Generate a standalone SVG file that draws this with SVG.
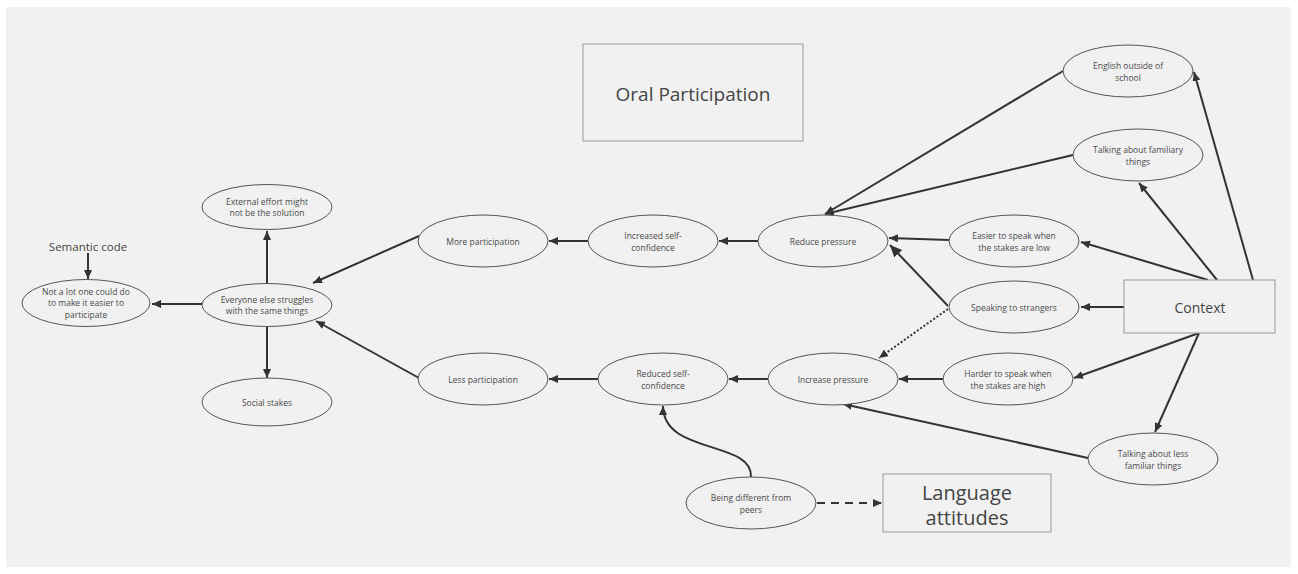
<svg xmlns="http://www.w3.org/2000/svg" width="1298" height="574" viewBox="0 0 1298 574">
<style>
.n ellipse{fill:#f1f1f1;stroke:#555;stroke-width:1}
.n rect{fill:#f1f1f1;stroke:#999;stroke-width:1}
.t{font-family:"Open Sans","Liberation Sans",sans-serif;font-size:8.5px;fill:#4a4a4a;text-anchor:middle;dominant-baseline:central}
.big{font-family:"Open Sans","Liberation Sans",sans-serif;fill:#444;text-anchor:middle;dominant-baseline:central}
.c path{fill:none;stroke:#333;stroke-width:2}
</style>
<defs>
<marker id="a" markerUnits="userSpaceOnUse" markerWidth="10" markerHeight="10" refX="9" refY="4" orient="auto"><path d="M0,0 L9,4 L0,8 z" fill="#333"/></marker>
<marker id="ab" markerUnits="userSpaceOnUse" markerWidth="14" markerHeight="14" refX="12" refY="5.5" orient="auto"><path d="M0,0 L12,5.5 L0,11 z" fill="#333"/></marker>
</defs>
<rect x="6" y="7" width="1285" height="560" fill="#f1f1f1"/>
<g class="c">
<path d="M202,304 L152,304" marker-end="url(#a)"/>
<path d="M267,284 L267,231" marker-end="url(#a)"/>
<path d="M267,326 L267,378" marker-end="url(#a)"/>
<path d="M419,236 L313,283" marker-end="url(#a)"/>
<path d="M419,378 L316,321" marker-end="url(#a)"/>
<path d="M588,241 L549,241" marker-end="url(#a)"/>
<path d="M758,241 L719,241" marker-end="url(#a)"/>
<path d="M598,379 L549,379" marker-end="url(#a)"/>
<path d="M768,379 L729,379" marker-end="url(#a)"/>
<path d="M1063,71 L825,214" marker-end="url(#a)"/>
<path d="M1073,155 L825,214" marker-end="url(#a)"/>
<path d="M949,240 L889,238" marker-end="url(#a)"/>
<path d="M948,306 L890,245" stroke-width="3" marker-end="url(#ab)"/>
<path d="M948,309 L879,358" stroke-dasharray="2,2" marker-end="url(#a)"/>
<path d="M1124,307 L1081,307" marker-end="url(#a)"/>
<path d="M1208,280 L1081,242" marker-end="url(#a)"/>
<path d="M1217,280 L1139,183" marker-end="url(#a)"/>
<path d="M1253,280 L1194,72" marker-end="url(#a)"/>
<path d="M1199,333 L1074,378" marker-end="url(#a)"/>
<path d="M1199,333 L1155,432" marker-end="url(#a)"/>
<path d="M943,379 L899,379" marker-end="url(#a)"/>
<path d="M1088,458 L843,404" marker-end="url(#a)"/>
<path d="M751,477 C753,440 663,455 663,406" marker-end="url(#a)"/>
<path d="M817,503 L882,503" stroke-dasharray="8,6" marker-end="url(#a)"/>
<path d="M88,253 L88,279" marker-end="url(#a)"/>
</g>
<g id="oral" class="n"><rect x="583" y="44" width="220" height="97"/><text class="big" x="693" y="94" font-size="19">Oral Participation</text></g>
<g id="semantic"><text class="big" x="88" y="246" font-size="11.5">Semantic code</text></g>
<g id="notalot" class="n"><ellipse cx="86" cy="303" rx="64" ry="23.5"/><text class="t" x="86" y="291">Not a lot one could do</text><text class="t" x="86" y="302.5">to make it easier to</text><text class="t" x="86" y="314">participate</text></g>
<g id="external" class="n"><ellipse cx="267" cy="207" rx="65" ry="22.5"/><text class="t" x="267" y="201">External effort might</text><text class="t" x="267" y="212.5">not be the solution</text></g>
<g id="everyone" class="n"><ellipse cx="267" cy="305" rx="65" ry="21.5"/><text class="t" x="267" y="299">Everyone else struggles</text><text class="t" x="267" y="310.5">with the same things</text></g>
<g id="social" class="n"><ellipse cx="267" cy="402" rx="65" ry="24"/><text class="t" x="267" y="402">Social stakes</text></g>
<g id="more" class="n"><ellipse cx="483" cy="241" rx="65" ry="26"/><text class="t" x="483" y="241">More participation</text></g>
<g id="increased" class="n"><ellipse cx="653" cy="241" rx="65" ry="26"/><text class="t" x="653" y="235.5">Increased self-</text><text class="t" x="653" y="247">confidence</text></g>
<g id="reduce" class="n"><ellipse cx="823" cy="241" rx="65" ry="26"/><text class="t" x="823" y="241">Reduce pressure</text></g>
<g id="less" class="n"><ellipse cx="483" cy="379" rx="65" ry="26"/><text class="t" x="483" y="379">Less participation</text></g>
<g id="reduced" class="n"><ellipse cx="663" cy="379" rx="65" ry="26"/><text class="t" x="663" y="373.5">Reduced self-</text><text class="t" x="663" y="385">confidence</text></g>
<g id="increase" class="n"><ellipse cx="833" cy="379" rx="65" ry="26"/><text class="t" x="833" y="379">Increase pressure</text></g>
<g id="english" class="n"><ellipse cx="1128" cy="71" rx="65" ry="26"/><text class="t" x="1128" y="65.5">English outside of</text><text class="t" x="1128" y="77">school</text></g>
<g id="familiar" class="n"><ellipse cx="1138" cy="155" rx="65" ry="26"/><text class="t" x="1138" y="149.5">Talking about familiary</text><text class="t" x="1138" y="161">things</text></g>
<g id="easier" class="n"><ellipse cx="1014" cy="241" rx="65" ry="26"/><text class="t" x="1014" y="235.5">Easier to speak when</text><text class="t" x="1014" y="247">the stakes are low</text></g>
<g id="strangers" class="n"><ellipse cx="1014" cy="307" rx="65" ry="26"/><text class="t" x="1014" y="307">Speaking to strangers</text></g>
<g id="context" class="n"><rect x="1124" y="280" width="151" height="53"/><text class="big" x="1200" y="307" font-size="14">Context</text></g>
<g id="harder" class="n"><ellipse cx="1008" cy="379" rx="65" ry="26"/><text class="t" x="1008" y="373.5">Harder to speak when</text><text class="t" x="1008" y="385">the stakes are high</text></g>
<g id="lessfamiliar" class="n"><ellipse cx="1153" cy="459" rx="65" ry="26"/><text class="t" x="1153" y="453.5">Talking about less</text><text class="t" x="1153" y="465">familiar things</text></g>
<g id="different" class="n"><ellipse cx="751" cy="503" rx="65" ry="26"/><text class="t" x="751" y="497.5">Being different from</text><text class="t" x="751" y="509">peers</text></g>
<g id="language" class="n"><rect x="883" y="474" width="168" height="58"/><text class="big" x="967" y="492" font-size="20">Language</text><text class="big" x="967" y="517" font-size="20">attitudes</text></g>
</svg>
